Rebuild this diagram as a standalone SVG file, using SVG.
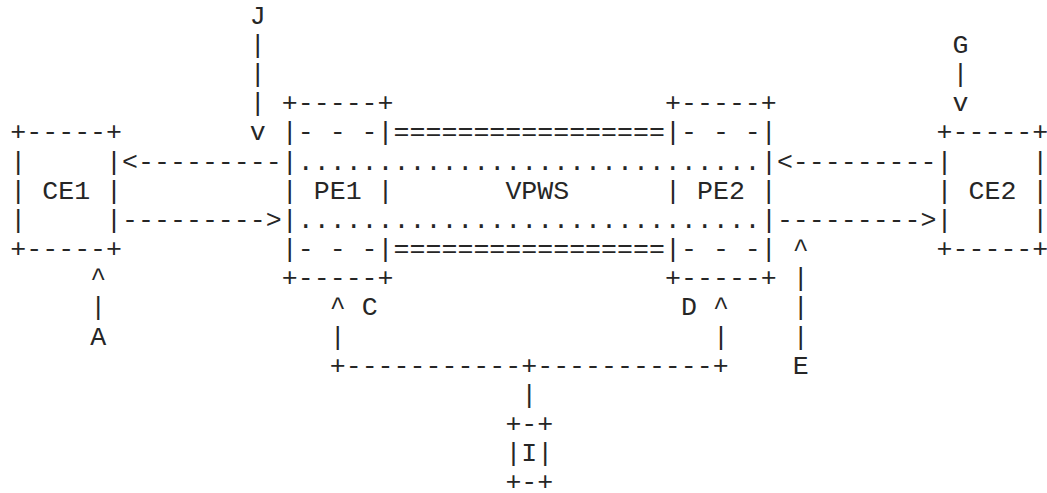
<svg xmlns="http://www.w3.org/2000/svg" width="1047" height="493" viewBox="0 0 1047 493">
<style>
text{font-family:"Liberation Mono","Courier New",monospace;font-size:26.6px;fill:#262626;white-space:pre}
</style>
<rect width="1047" height="493" fill="#fff"/>
<g id="J"><text x="249.87" y="23.7">J</text></g>
<g id="G"><text x="952.55" y="52.87">G</text></g>
<g id="CE1">
<text x="10.32" y="140.38">+-----+</text>
<text x="10.32" y="169.55">|     |</text>
<text x="10.32" y="198.72">| CE1 |</text>
<text x="10.32" y="227.89">|     |</text>
<text x="10.32" y="257.06">+-----+</text>
</g>
<g id="CE2">
<text x="936.58" y="140.38">+-----+</text>
<text x="936.58" y="169.55">|     |</text>
<text x="936.58" y="198.72">| CE2 |</text>
<text x="936.58" y="227.89">|     |</text>
<text x="936.58" y="257.06">+-----+</text>
</g>
<g id="PE1">
<text x="281.81" y="111.21">+-----+</text>
<text x="281.81" y="140.38">|- - -|</text>
<text x="281.81" y="169.55">|</text>
<text x="281.81" y="198.72">| PE1 |</text>
<text x="281.81" y="227.89">|</text>
<text x="281.81" y="257.06">|- - -|</text>
<text x="281.81" y="286.23">+-----+</text>
</g>
<g id="PE2">
<text x="665.09" y="111.21">+-----+</text>
<text x="665.09" y="140.38">|- - -|</text>
<text x="760.91" y="169.55">|</text>
<text x="665.09" y="198.72">| PE2 |</text>
<text x="760.91" y="227.89">|</text>
<text x="665.09" y="257.06">|- - -|</text>
<text x="665.09" y="286.23">+-----+</text>
</g>
<g id="VPWS">
<text x="393.6" y="140.38">=================</text>
<text x="297.78" y="169.55">.............................</text>
<text x="505.39" y="198.72">VPWS</text>
<text x="297.78" y="227.89">.............................</text>
<text x="393.6" y="257.06">=================</text>
</g>
<g id="I">
<text x="505.39" y="432.08">+-+</text>
<text x="505.39" y="461.25">|I|</text>
<text x="505.39" y="490.42">+-+</text>
</g>
<g id="A"><text x="90.17" y="344.57">A</text></g>
<g id="C"><text x="361.66" y="315.4">C</text></g>
<g id="D"><text x="681.06" y="315.4">D</text></g>
<g id="E"><text x="792.85" y="373.74">E</text></g>
<g id="connectors">
<text x="249.87" y="52.87">|</text>
<text x="249.87" y="82.04">|</text>
<text x="249.87" y="111.21">|</text>
<text x="249.87" y="140.38">v</text>
<text x="952.55" y="82.04">|</text>
<text x="952.55" y="111.21">v</text>
<text x="122.11" y="169.55">&lt;---------</text>
<text x="776.88" y="169.55">&lt;---------</text>
<text x="122.11" y="227.89">---------&gt;</text>
<text x="776.88" y="227.89">---------&gt;</text>
<text x="90.17" y="286.23">^</text>
<text x="90.17" y="315.4">|</text>
<text x="792.85" y="257.06">^</text>
<text x="792.85" y="286.23">|</text>
<text x="792.85" y="315.4">|</text>
<text x="792.85" y="344.57">|</text>
<text x="329.72" y="315.4">^</text>
<text x="329.72" y="344.57">|</text>
<text x="713" y="315.4">^</text>
<text x="713" y="344.57">|</text>
<text x="329.72" y="373.74">+-----------+-----------+</text>
<text x="521.36" y="402.91">|</text>
</g>
</svg>
